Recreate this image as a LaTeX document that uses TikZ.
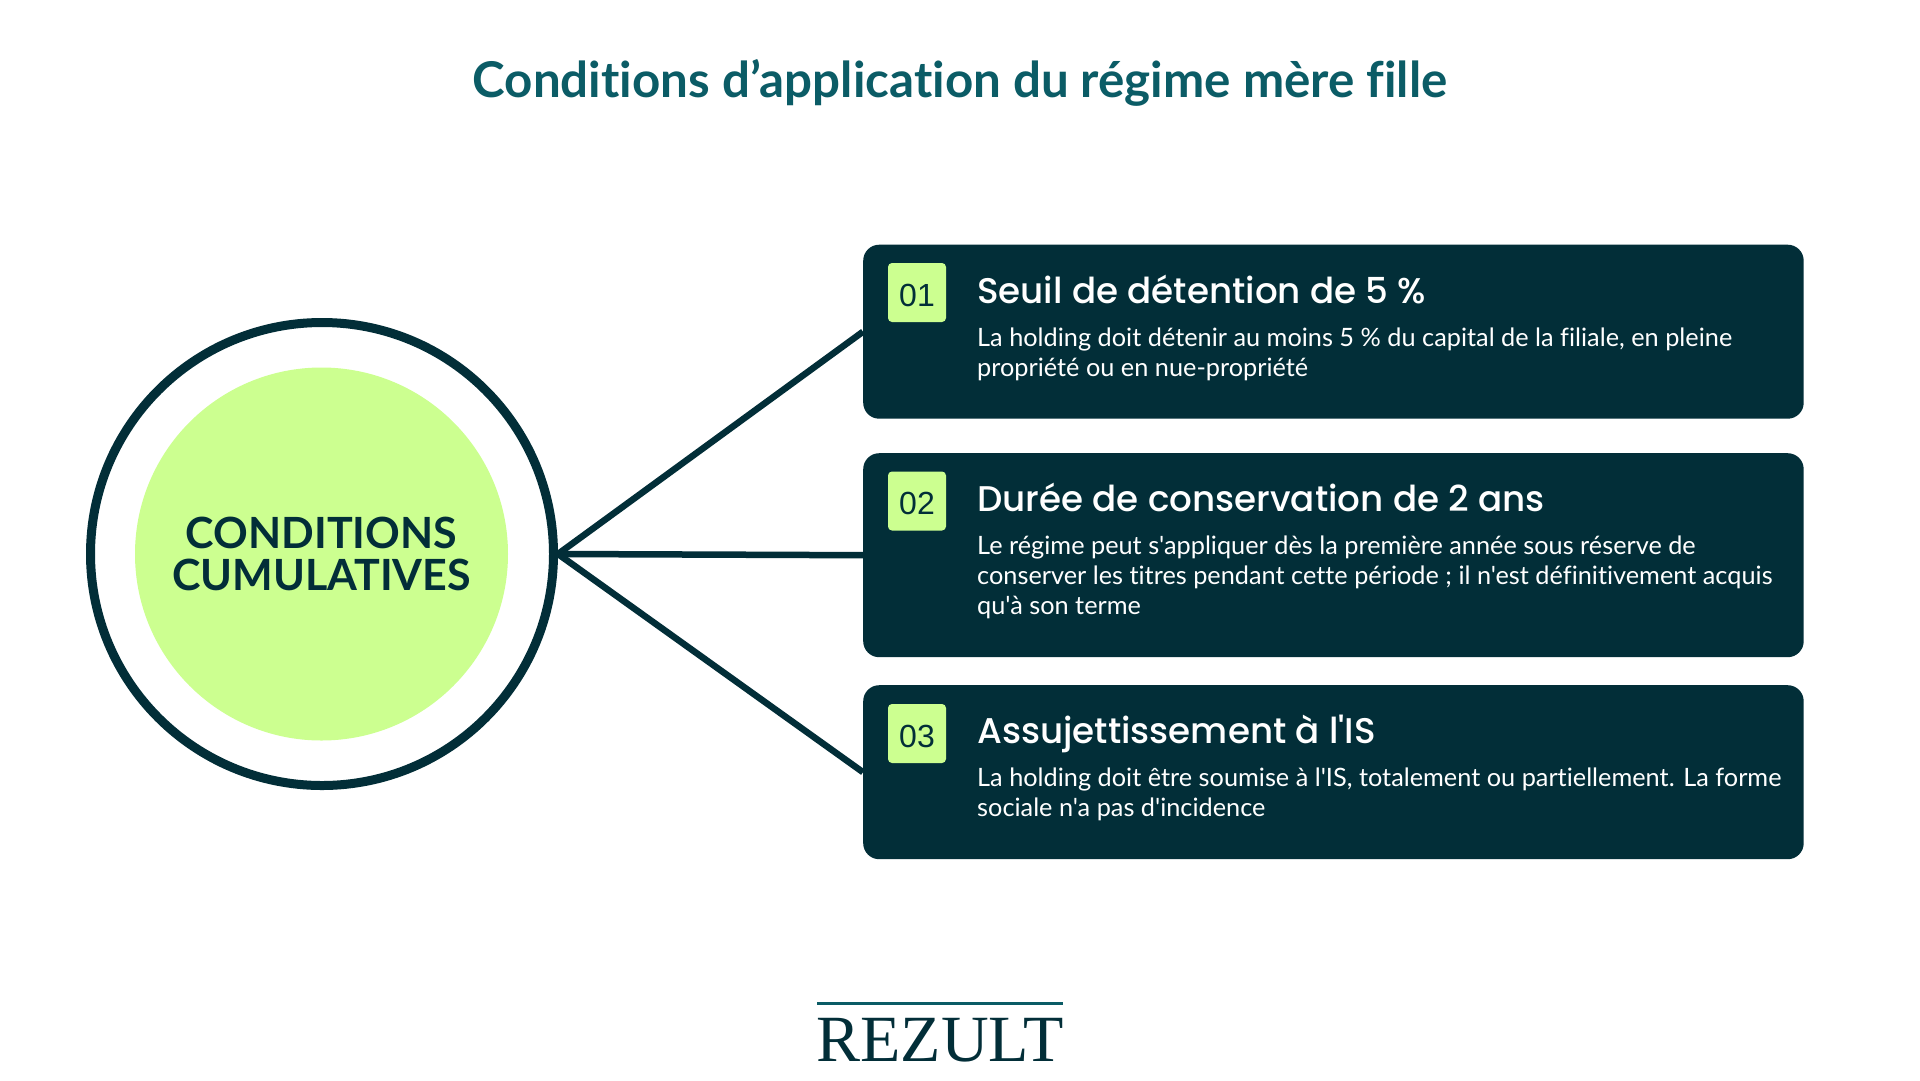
\documentclass[tikz,border=0pt]{standalone}
\usepackage{fontspec}
\setmainfont{Lato}[Ligatures=NoCommon]
\newfontfamily\bodyfont{Lato}[Ligatures=NoCommon]
\newfontfamily\headfont{Poppins}[UprightFont=* Medium]
\newfontfamily\numfont{Liberation Sans}
\newfontfamily\logofont{Liberation Serif}
\definecolor{navy}{HTML}{022E38}
\definecolor{lime}{HTML}{CCFF90}
\definecolor{teal}{HTML}{0B5C66}
\tikzset{
  x=1pt,y=-1pt,
  card/.style={fill=navy,rounded corners=16pt,minimum width=940.5pt,inner sep=0pt,anchor=north west},
  numbox/.style={fill=lime,rounded corners=4pt,minimum width=58pt,minimum height=59pt,inner sep=0pt,
    text height=27pt,text depth=0pt,text=navy,font=\numfont\fontsize{32}{32}\selectfont},
  cardtitle/.style={anchor=base west,inner sep=0pt,text=white,font=\headfont\fontsize{35.7}{35.7}\selectfont},
  cardbody/.style={anchor=north west,inner sep=0pt,align=left,text=white,font=\bodyfont\fontsize{25.3}{30}\selectfont},
  spoke/.style={draw=navy,line width=6.5pt},
}
\begin{document}
\begin{tikzpicture}
\path[use as bounding box,fill=white] (0,0) rectangle (1920,1080);
\node[anchor=base,inner sep=0pt,text=teal,font=\bodyfont\bfseries\fontsize{49.3}{49.3}\selectfont] (title) at (960,97) {Conditions d’application du régime mère fille};

\node[card,minimum height=174pt] (c1) at (863,244.5) {};
\node[card,minimum height=204pt] (c2) at (863,453) {};
\node[card,minimum height=174pt] (c3) at (863,685) {};

\node[circle,draw=navy,line width=9pt,fill=white,minimum size=463pt,inner sep=0pt] (outer) at (322,554) {};
\node[circle,fill=lime,minimum size=373pt,inner sep=0pt,align=center,text=navy,font=\bodyfont\bfseries\fontsize{43}{42}\selectfont] (inner) at (321.5,554) {CONDITIONS\\CUMULATIVES};

\coordinate (hub) at (outer.east);
\draw[spoke] (hub) -- (c1.west);
\draw[spoke] (hub) -- (c2.west);
\draw[spoke] (hub) -- (c3.west);

\node[numbox] (n1) at (917,292.5) {01};
\node[numbox] (n2) at (917,501) {02};
\node[numbox] (n3) at (917,733.5) {03};

\node[cardtitle] (t1) at (977,303) {Seuil de détention de 5 \%};
\node[cardtitle] (t2) at (977,511) {Durée de conservation de 2 ans};
\node[cardtitle] (t3) at (977,743.5) {Assujettissement à l'IS};

\node[cardbody] (b1) at (977,328) {La holding doit détenir au moins 5 \% du capital de la filiale, en pleine\\propriété ou en nue-propriété};
\node[cardbody] (b2) at (977,536) {Le régime peut s'appliquer dès la première année sous réserve de\\conserver les titres pendant cette période ; il n'est définitivement acquis\\qu'à son terme};
\node[cardbody] (b3) at (977,768) {La holding doit être soumise à l'IS, totalement ou partiellement. La forme\\sociale n'a pas d'incidence};

\node[fill=teal,minimum width=246pt,minimum height=3pt,inner sep=0pt] (rule) at (940,1003) {};
\node[anchor=base,inner sep=0pt,text=navy,font=\logofont\fontsize{66}{66}\selectfont] (logo) at (940,1061) {REZULT};
\end{tikzpicture}
\end{document}
